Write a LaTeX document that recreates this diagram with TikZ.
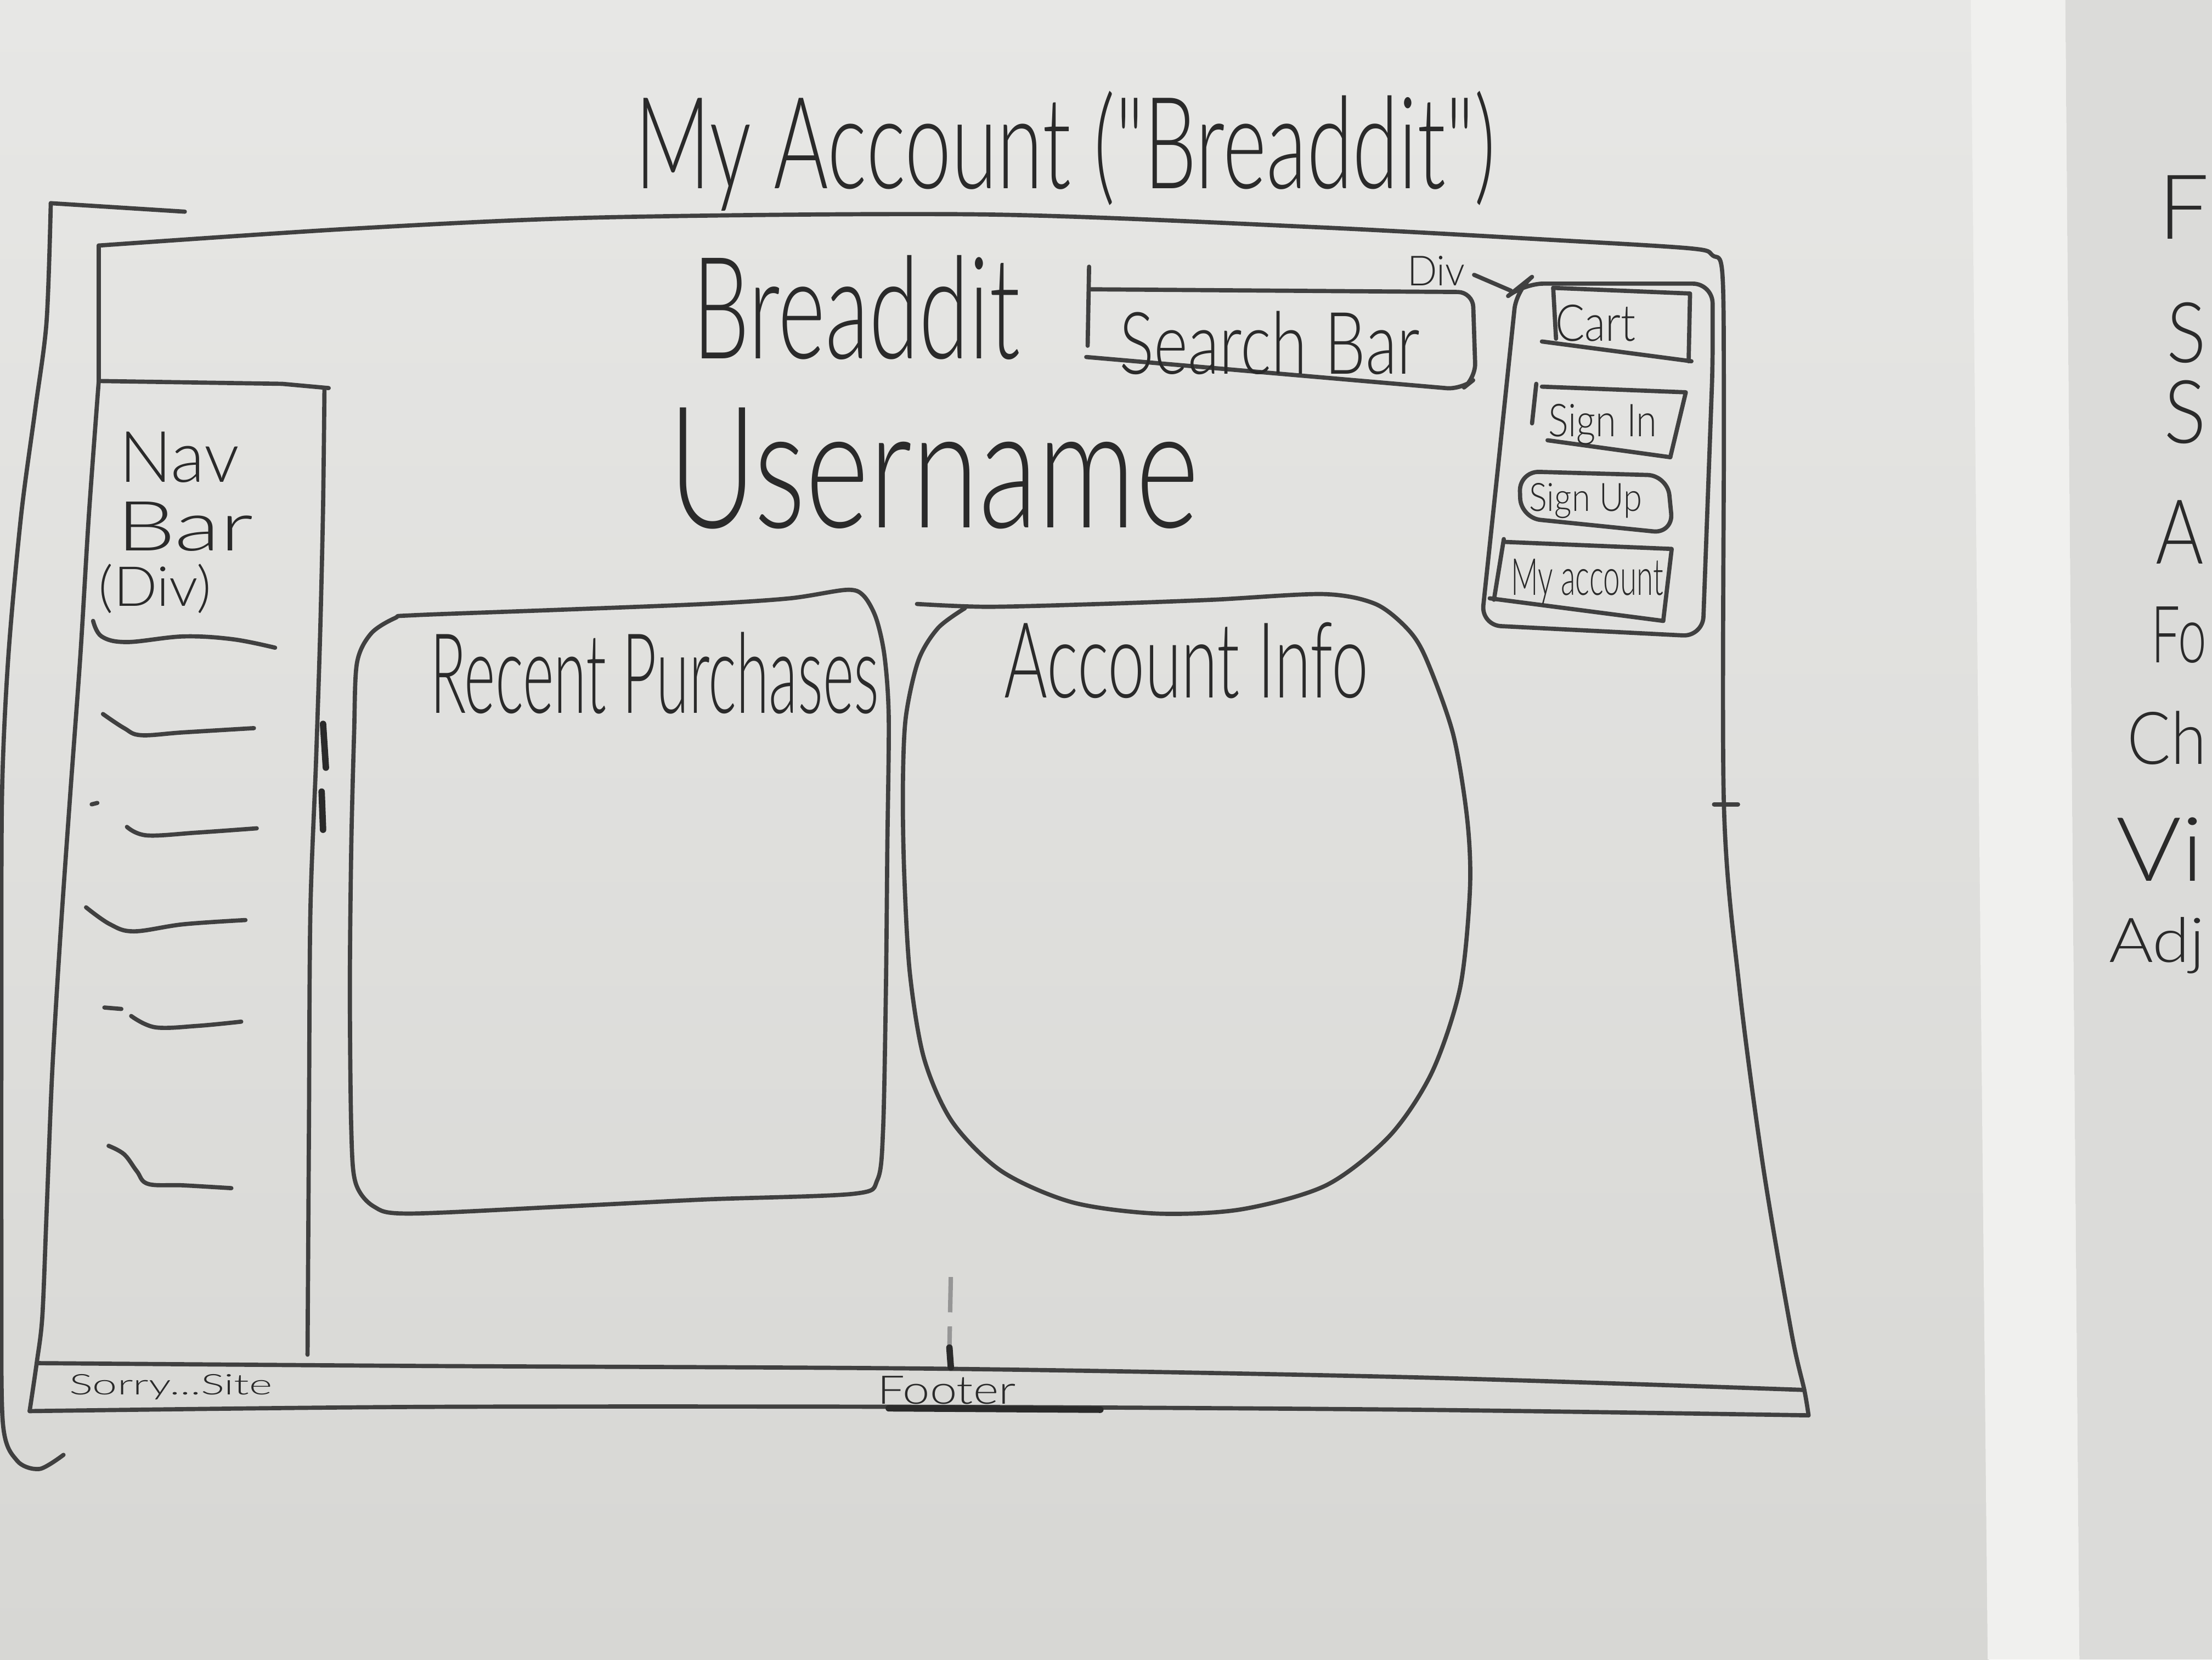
\documentclass[tikz,border=0pt]{standalone}
\usepackage{fontspec}
\usepackage{graphicx}
\newfontfamily\hand{Lato Light}
\definecolor{paperhi}{RGB}{231,231,229}
\definecolor{paperlo}{RGB}{215,215,212}
\definecolor{gap}{RGB}{240,240,238}
\definecolor{sheet}{RGB}{219,219,217}
\definecolor{pencil}{RGB}{64,64,64}
\definecolor{lead}{RGB}{42,42,42}
\definecolor{faint}{RGB}{150,150,150}
% scale a handwritten label to a given width and total height (in mm)
\newcommand{\handfit}[3]{\resizebox*{#1mm}{#2mm}{#3}}
\tikzset{
  ink/.style={draw=pencil, line width=0.85pt, line cap=round, line join=round},
  heavy/.style={draw=lead, line width=1.3pt, line cap=round},
  lbl/.style={inner sep=0pt, outer sep=0pt, text=lead, font=\hand},
}
\begin{document}
\begin{tikzpicture}[x=0.1mm,y=-0.1mm]
\useasboundingbox (0,0) rectangle (1568,1176);
\clip (0,0) rectangle (1568,1176);

% --- paper sheets -------------------------------------------------------
\shade[top color=paperhi, bottom color=paperlo] (0,0) rectangle (1410,1176);
\fill[gap] (1397,0) -- (1464,0) -- (1474,1176) -- (1409,1176) -- cycle;
\fill[sheet] (1464,0) -- (1568,0) -- (1568,1176) -- (1474,1176) -- cycle;

% --- title --------------------------------------------------------------
\node[lbl] (title) at (755,107) {\handfit{61}{8.5}{My Account ("Breaddit")}};

% --- outer bracket ------------------------------------------------------
\draw[ink] (131,150) -- (36,144);
\draw[ink] plot[smooth, tension=0.5] coordinates {(36,144) (33,228) (25,290) (15,365) (6,464) (1.5,560) (1,700) (1,900) (2,1008) (12,1035) (28,1041) (45,1031)};

% --- page frame ---------------------------------------------------------
\draw[ink] plot[smooth, tension=0.5] coordinates {(70,174) (250,162) (430,154) (700,152) (933,161) (1100,170) (1198,176) (1214,181) (1221,195) (1222,300) (1222,570) (1233,700) (1250,828) (1270,945) (1279,985) (1282,1003)};
\draw[ink] (70,174) -- (70,270);
\draw[ink] plot[smooth, tension=0.5] coordinates {(70,270) (63,365) (57,464) (50,560) (43,660) (37,760) (33,860) (30,933) (26,966) (21,1000)};
\draw[ink] (1215,570) -- (1232,570);

% --- footer -------------------------------------------------------------
\draw[ink] plot[smooth, tension=0.5] coordinates {(26,966) (300,968) (670,970) (1000,976) (1279,985)};
\draw[ink] plot[smooth, tension=0.5] coordinates {(21,1000) (300,997) (670,997) (1000,999) (1282,1003)};
\draw[heavy] (630,998) -- (780,999);
\draw[draw=faint, line width=0.9pt, dash pattern=on 2.5mm off 1mm] (674,905) -- (673,955);
\draw[heavy] (673,955) -- (674,969);
\node[lbl] (sorry) at (121,983) {\handfit{14.4}{1.8}{Sorry...Site}};
\node[lbl] (footer) at (671,985) {\handfit{9.8}{2.0}{Footer}};

% --- navigation bar -----------------------------------------------------
\draw[ink] (70,270) -- (200,272) -- (233,275);
\draw[ink] plot[smooth, tension=0.5] coordinates {(230,275) (229,360) (227,447) (224,540) (220,647) (219,800) (218,960)};
\draw[heavy] (229,513) -- (231,544);
\draw[heavy] (228,561) -- (229,588);
\node[lbl] (nav1) at (127,324) {\handfit{8.5}{3.6}{Nav}};
\node[lbl] (nav2) at (131,373) {\handfit{9.7}{3.5}{Bar}};
\node[lbl] (nav3) at (110,417) {\handfit{8.0}{3.5}{(Div)}};
\draw[ink] plot[smooth, tension=0.6] coordinates {(66,440) (72,451) (90,455) (130,451) (165,453) (195,459)};
\draw[ink] plot[smooth, tension=0.6] coordinates {(73,506) (88,516) (100,521) (130,519) (180,516)};
\draw[ink] (65,570) -- (69,569);
\draw[ink] plot[smooth, tension=0.6] coordinates {(90,586) (104,592) (140,590) (182,587)};
\draw[ink] plot[smooth, tension=0.6] coordinates {(61,643) (78,655) (95,660) (130,655) (174,652)};
\draw[ink] (74,714) -- (86,715);
\draw[ink] plot[smooth, tension=0.6] coordinates {(93,720) (110,728) (140,727) (171,724)};
\draw[ink] plot[smooth, tension=0.6] coordinates {(77,812) (88,818) (97,830) (105,839) (130,840) (164,842)};

% --- header -------------------------------------------------------------
\node[lbl] (brand) at (607,218) {\handfit{23.2}{7.4}{Breaddit}};
\draw[ink] (772,189) -- (771,245);
\draw[ink, rounded corners=3pt] (772,205) -- (1044,207) -- (1046,268) -- (1036,276) -- (770,253);
\node[lbl] (search) at (900,243) {\handfit{21.3}{4.5}{Search Bar}};

% --- account links ------------------------------------------------------
\draw[ink, rounded corners=4pt] (1075,205) -- (1080,201) -- (1214,201) -- (1214,260) -- (1207,451) -- (1050,443) -- (1062,330) -- cycle;
\node[lbl] (divl) at (1018,192) {\handfit{4.1}{2.1}{Div}};
\coordinate (panel) at (1071,206);
\draw[ink, shorten <=0.7mm] (divl.east) -- (panel);

\draw[ink] (1101,204) -- (1103,240);
\draw[ink] (1101,204) -- (1198,208) -- (1197,256);
\draw[ink] (1093,242) -- (1199,256);
\node[lbl] (cart) at (1131,229) {\handfit{5.7}{2.6}{Cart}};

\draw[ink] (1089,272) -- (1086,300);
\draw[ink] (1093,274) -- (1195,278) -- (1184,324);
\draw[ink] (1097,312) -- (1184,324);
\node[lbl] (signin) at (1136,301) {\handfit{7.7}{2.9}{Sign In}};

\draw[ink, rounded corners=4pt] (1077,334) -- (1182,337) -- (1186,378) -- (1078,367) -- cycle;
\node[lbl] (signup) at (1124,355) {\handfit{8.0}{2.5}{Sign Up}};

\draw[ink] (1066,382) -- (1059,425);
\draw[ink] (1066,384) -- (1185,389) -- (1179,440);
\draw[ink] (1056,424) -- (1179,440);
\node[lbl] (myacct) at (1125,412) {\handfit{10.8}{3.2}{My account}};

% --- user heading -------------------------------------------------------
\node[lbl] (uname) at (662,332) {\handfit{37.6}{8.6}{Username}};

% --- recent purchases panel ---------------------------------------------
\draw[ink] plot[smooth cycle, tension=0.5] coordinates {(253,470) (263,449) (280,438) (293,436) (400,432) (500,428) (560,424) (600,418) (612,422) (621,438) (627,465) (630,509) (629,600) (628,700) (626,800) (622,836) (605,846) (500,850) (400,855) (290,860) (265,855) (252,838) (249,800) (248,700) (249,600) (251,520)};
\node[lbl] (recent) at (464,477) {\handfit{31.8}{5.8}{Recent Purchases}};

% --- account info panel -------------------------------------------------
\draw[ink] plot[smooth, tension=0.5] coordinates {(650,428) (700,430) (780,428) (860,425) (938,421) (975,428) (998,446) (1011,467) (1030,520) (1040,580) (1042,630) (1035,700) (1015,760) (985,805) (940,840) (880,857) (820,860) (760,852) (710,830) (675,795) (655,750) (645,690) (641,620) (640,560) (642,509) (651,468) (665,445) (684,431)};
\node[lbl] (acct) at (841,468) {\handfit{25.8}{5.4}{Account Info}};

% --- neighbouring sheet, letters reaching the edge ----------------------
\node[lbl, anchor=west] (r1) at (1530,147) {\resizebox*{!}{4.5mm}{F}};
\node[lbl, anchor=west] (r2) at (1536,236) {\resizebox*{2.8mm}{4.3mm}{S}};
\node[lbl, anchor=west] (r3) at (1534,292) {\resizebox*{3.0mm}{4.5mm}{S}};
\node[lbl, anchor=west] (r4) at (1528,377) {\resizebox*{3.4mm}{4.5mm}{A}};
\node[lbl, anchor=west] (r5) at (1525,450) {\resizebox*{3.9mm}{4.0mm}{Fo}};
\node[lbl, anchor=west] (r6) at (1508,523) {\resizebox*{5.6mm}{3.8mm}{Ch}};
\node[lbl, anchor=west] (r7) at (1500,602) {\resizebox*{6.2mm}{4.5mm}{Vi}};
\node[lbl, anchor=west] (r8) at (1495,670) {\resizebox*{6.8mm}{4.0mm}{Adj}};
\end{tikzpicture}
\end{document}
